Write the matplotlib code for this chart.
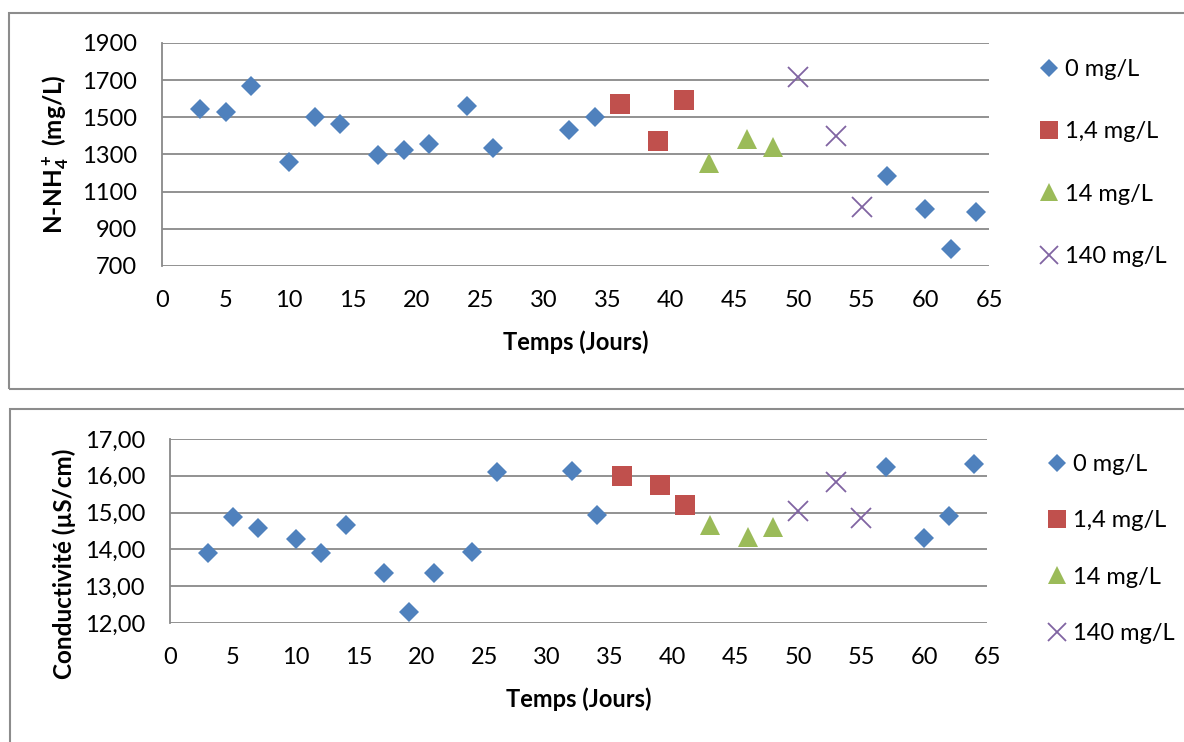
import matplotlib
matplotlib.use("Agg")
import matplotlib.pyplot as plt
from matplotlib.patches import Rectangle
from matplotlib.ticker import FuncFormatter

plt.rcParams['font.family'] = ['Lato', 'DejaVu Sans']
plt.rcParams['mathtext.fontset'] = 'custom'
plt.rcParams['mathtext.rm'] = 'Lato:bold'
plt.rcParams['mathtext.bf'] = 'Lato:bold'
plt.rcParams['mathtext.default'] = 'rm'

# ---- data ----
labels = ["0 mg/L", "1,4 mg/L", "14 mg/L", "140 mg/L"]

# Top: N-NH4+
nh4_x0 = [3, 5, 7, 10, 12, 14, 17, 19, 21, 24, 26, 32, 34, 57, 60, 62, 64]
nh4_y0 = [1545, 1530, 1669, 1261, 1504, 1464, 1299, 1324, 1355, 1559, 1337, 1432, 1504, 1182, 1009, 793, 989]
nh4_x1 = [36, 39, 41]
nh4_y1 = [1572, 1374, 1593]
nh4_x2 = [43, 46, 48]
nh4_y2 = [1256, 1385, 1340]
nh4_x3 = [50, 53, 55]
nh4_y3 = [1717, 1398, 1017]

# Bottom: conductivity
cond_x0 = [3, 5, 7, 10, 12, 14, 17, 19, 21, 24, 26, 32, 34, 57, 60, 62, 64]
cond_y0 = [13.90, 14.89, 14.59, 14.28, 13.90, 14.66, 13.36, 12.31, 13.37, 13.93, 16.10, 16.14, 14.93, 16.23, 14.32, 14.91, 16.31]
cond_x1 = [36, 39, 41]
cond_y1 = [16.00, 15.75, 15.20]
cond_x2 = [43, 46, 48]
cond_y2 = [14.65, 14.33, 14.60]
cond_x3 = [50, 53, 55]
cond_y3 = [15.04, 15.82, 14.84]

x_ticks = list(range(0, 70, 5))
nh4_ticks = [700, 900, 1100, 1300, 1500, 1700, 1900]
cond_ticks = [12, 13, 14, 15, 16, 17]

colors = ["#4F81BD", "#C0504D", "#9BBB59", "#8064A2"]
markers = ["D", "s", "^", "x"]
msizes = [10.2, 14.5, 14.4, 14]

FS = 17
W, H = 1184, 742
fig = plt.figure(figsize=(W / 100, H / 100), dpi=100)

# panel frames
frame_col = "#8C8C8C"
fig.patches.append(Rectangle((9 / W, 1 - 389 / H), 1.2, 376 / H, transform=fig.transFigure,
                             fill=False, edgecolor=frame_col, lw=1.5, zorder=0))
fig.patches.append(Rectangle((10 / W, -0.2), 1.2, 0.2 + 1 - 409 / H, transform=fig.transFigure,
                             fill=False, edgecolor=frame_col, lw=1.5, zorder=0))

grid_col = "#898989"


def style(ax, yticks, fmt):
    ax.set_xlim(0, 65)
    ax.set_ylim(yticks[0], yticks[-1])
    ax.set_xticks(x_ticks)
    ax.set_yticks(yticks)
    ax.yaxis.set_major_formatter(FuncFormatter(fmt))
    ax.grid(axis='y', color=grid_col, lw=1.3)
    ax.set_axisbelow(True)
    for s in ["top", "right", "bottom"]:
        ax.spines[s].set_visible(False)
    ax.spines["left"].set_color(grid_col)
    ax.spines["left"].set_linewidth(1.3)
    ax.tick_params(length=0, labelsize=FS, colors="black")
    ax.tick_params(axis='x', pad=17)
    ax.tick_params(axis='y', pad=18)


def plot_series(ax, xs, ys):
    for i, (x, y) in enumerate(zip(xs, ys)):
        if markers[i] == "x":
            ax.plot(x, y, linestyle="none", marker="x", ms=msizes[i], mew=1.3,
                    color=colors[i], label=labels[i], clip_on=False)
        else:
            ax.plot(x, y, linestyle="none", marker=markers[i], ms=msizes[i], mew=0,
                    color=colors[i], label=labels[i], clip_on=False)


def add_legend(ax, left_px, center_px, spacing):
    ax.legend(loc="center left", bbox_to_anchor=(left_px / W, 1 - center_px / H),
              bbox_transform=fig.transFigure, frameon=False, fontsize=FS,
              labelspacing=spacing, handletextpad=0.25, handlelength=0.8,
              borderaxespad=0, borderpad=0, markerscale=0.88)


# top axes
ax1 = fig.add_axes([162 / W, 1 - 266 / H, 827 / W, 223 / H])
plot_series(ax1, [nh4_x0, nh4_x1, nh4_x2, nh4_x3], [nh4_y0, nh4_y1, nh4_y2, nh4_y3])
style(ax1, nh4_ticks, lambda v, p: f"{int(v)}")
ax1.set_xlabel("Temps (Jours)", fontsize=FS, fontweight="bold", labelpad=14)
ax1.set_ylabel("N-NH$_4^+$ (mg/L)", fontsize=17.5, fontweight="bold", labelpad=8)
add_legend(ax1, 1040, 163, 1.75)

# bottom axes
ax2 = fig.add_axes([170 / W, 1 - 623 / H, 817 / W, 184 / H])
plot_series(ax2, [cond_x0, cond_x1, cond_x2, cond_x3], [cond_y0, cond_y1, cond_y2, cond_y3])
style(ax2, cond_ticks, lambda v, p: f"{v:.2f}".replace(".", ","))
ax2.set_xlabel("Temps (Jours)", fontsize=FS, fontweight="bold", labelpad=14)
ax2.set_ylabel("Conductivité (µS/cm)", fontsize=17.5, fontweight="bold", labelpad=6)
ax2.yaxis.set_label_coords(-0.115, 0.32)
add_legend(ax2, 1048, 549, 1.5)

fig.savefig("out.png", dpi=100)
